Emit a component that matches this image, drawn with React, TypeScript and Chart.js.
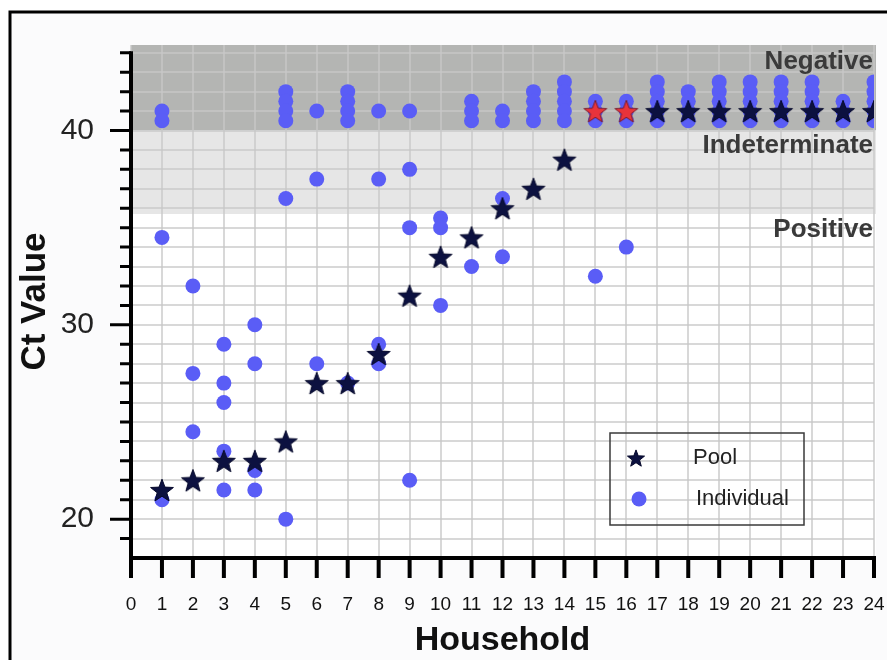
import React, { useEffect, useRef } from 'react';
import { Chart, registerables } from 'chart.js';

Chart.register(...registerables);

// ---------- data ----------
const households = [1, 2, 3, 4, 5, 6, 7, 8, 9, 10, 11, 12, 13, 14, 15, 16, 17, 18, 19, 20, 21, 22, 23, 24];
const poolCt = [21.5, 22, 23, 23, 24, 27, 27, 28.5, 31.5, 33.5, 34.5, 36, 37, 38.5, 41, 41, 41, 41, 41, 41, 41, 41, 41, 41];
const redPoolHouseholds = [15, 16];
const individualCt = [
  [41, 40.5, 34.5, 21],
  [32, 27.5, 24.5],
  [29, 27, 26, 23.5, 21.5],
  [30, 28, 22.5, 21.5],
  [42, 41.5, 41, 40.5, 36.5, 20],
  [41, 37.5, 28],
  [42, 41.5, 41, 40.5, 27],
  [41, 37.5, 29, 28],
  [41, 38, 35, 22],
  [35.5, 35, 31],
  [41.5, 41, 40.5, 33],
  [41, 40.5, 36.5, 33.5],
  [42, 41.5, 41, 40.5],
  [42.5, 42, 41.5, 41, 40.5],
  [41.5, 41, 40.5, 32.5],
  [41.5, 41, 40.5, 34],
  [42.5, 42, 41.5, 41, 40.5],
  [42, 41.5, 41, 40.5],
  [42.5, 42, 41.5, 41, 40.5],
  [42.5, 42, 41.5, 41, 40.5],
  [42.5, 42, 41.5, 41, 40.5],
  [42.5, 42, 41.5, 41, 40.5],
  [41.5, 41, 40.5],
  [42.5, 42, 41.5, 41, 40.5],
];
const yTickLabels = [20, 30, 40];
const bandNames = ['Negative', 'Indeterminate', 'Positive'];
const negativeCutoff = 40;
const indeterminateCutoff = 35.7;
const xRange = [0, 24];
const yRange = [18, 44.4];

// ---------- styles ----------
const NAVY = '#0c1140';
const RED = '#e8333b';
const BLUE = '#5a5df6';
const SANS = "'Liberation Sans', Arial, Helvetica, sans-serif";

function makeStar(size: number, fill: string, stroke: string) {
  const c = document.createElement('canvas');
  c.width = size;
  c.height = size;
  const g = c.getContext('2d')!;
  const R = size / 2 - 1;
  const r = R * 0.42;
  const cx = size / 2;
  const cy = size / 2 + R * 0.1;
  g.beginPath();
  for (let i = 0; i < 10; i++) {
    const a = -Math.PI / 2 + (i * Math.PI) / 5;
    const rad = i % 2 === 0 ? R : r;
    g.lineTo(cx + rad * Math.cos(a), cy + rad * Math.sin(a));
  }
  g.closePath();
  g.fillStyle = fill;
  g.fill();
  g.lineWidth = 1;
  g.strokeStyle = stroke;
  g.stroke();
  return c;
}

function zeroPadding(s: any) {
  s.paddingTop = 0;
  s.paddingBottom = 0;
  s.paddingLeft = 0;
  s.paddingRight = 0;
}

export default function App() {
  const ref = useRef<HTMLCanvasElement | null>(null);

  useEffect(() => {
    const canvas = ref.current!;
    const navyStar = makeStar(26, NAVY, '#05082a');
    const redStar = makeStar(26, RED, '#7a1a2a');
    const legendStar = makeStar(20, NAVY, '#05082a');

    const poolPoints = households.map((h, i) => ({ x: h, y: poolCt[i] }));
    const indPoints: { x: number; y: number }[] = [];
    households.forEach((h, i) => individualCt[i].forEach((v) => indPoints.push({ x: h, y: v })));

    const decor = {
      id: 'decor',
      beforeDraw(chart: any) {
        const { ctx, chartArea, scales } = chart;
        const y = scales.y;
        const W = chart.width;
        const H = chart.height;
        ctx.save();
        ctx.fillStyle = '#ffffff';
        ctx.fillRect(0, 0, W, H);
        ctx.fillStyle = '#fbfbfc';
        ctx.fillRect(10, 12, W - 10, H - 12);
        // bands
        const yNeg = y.getPixelForValue(negativeCutoff);
        const yInd = y.getPixelForValue(indeterminateCutoff);
        const bw = chartArea.right - chartArea.left + 2;
        ctx.fillStyle = '#b4b5b3';
        ctx.fillRect(chartArea.left, chartArea.top, bw, yNeg - chartArea.top);
        ctx.fillStyle = '#e6e6e6';
        ctx.fillRect(chartArea.left, yNeg, bw, yInd - yNeg);
        ctx.fillStyle = '#ffffff';
        ctx.fillRect(chartArea.left, yInd, bw, chartArea.bottom - yInd);
        // outer frame
        ctx.strokeStyle = '#000';
        ctx.lineWidth = 3;
        ctx.beginPath();
        ctx.moveTo(10, H);
        ctx.lineTo(10, 12);
        ctx.lineTo(W, 12);
        ctx.stroke();
        ctx.restore();
      },
      beforeDatasetsDraw(chart: any) {
        const { ctx, chartArea, scales } = chart;
        const x = scales.x;
        const y = scales.y;
        ctx.save();
        // band labels
        ctx.fillStyle = '#3a3a3a';
        ctx.font = `bold 26px ${SANS}`;
        ctx.textAlign = 'right';
        ctx.textBaseline = 'alphabetic';
        const yNeg = y.getPixelForValue(negativeCutoff);
        const yInd = y.getPixelForValue(indeterminateCutoff);
        const rx = chartArea.right - 1;
        ctx.fillText(bandNames[0], rx, yNeg - 62);
        ctx.fillText(bandNames[1], rx, yNeg + 22);
        ctx.fillText(bandNames[2], rx, yInd + 23);

        // axis lines
        ctx.strokeStyle = '#000';
        ctx.lineCap = 'butt';
        ctx.lineWidth = 4;
        ctx.beginPath();
        ctx.moveTo(chartArea.left, y.getPixelForValue(44) - 1.5);
        ctx.lineTo(chartArea.left, chartArea.bottom + 2);
        ctx.moveTo(chartArea.left - 2, chartArea.bottom);
        ctx.lineTo(x.getPixelForValue(xRange[1]) + 2, chartArea.bottom);
        ctx.stroke();
        // y ticks (minor every unit, major every 10)
        ctx.lineWidth = 3;
        ctx.beginPath();
        for (let v = yRange[0] + 1; v <= 44; v++) {
          const py = y.getPixelForValue(v);
          const len = v % 10 === 0 ? 21 : 11;
          ctx.moveTo(chartArea.left - len, py);
          ctx.lineTo(chartArea.left, py);
        }
        ctx.stroke();
        // x ticks
        ctx.lineWidth = 4;
        ctx.beginPath();
        for (let v = xRange[0]; v <= xRange[1]; v++) {
          const px = x.getPixelForValue(v);
          ctx.moveTo(px, chartArea.bottom);
          ctx.lineTo(px, chartArea.bottom + 20);
        }
        ctx.stroke();
        ctx.restore();
      },
      afterDraw(chart: any) {
        const { ctx, chartArea } = chart;
        const ds = chart.data.datasets;
        ctx.save();
        const bx = chartArea.left + 479;
        const by = chartArea.top + 388;
        ctx.strokeStyle = '#3a3a3a';
        ctx.lineWidth = 1.5;
        ctx.strokeRect(bx, by, 194, 92);
        ctx.drawImage(legendStar, bx + 26 - 10, by + 25 - 10, 20, 20);
        ctx.fillStyle = BLUE;
        ctx.beginPath();
        ctx.arc(bx + 29, by + 66, 7.5, 0, Math.PI * 2);
        ctx.fill();
        ctx.fillStyle = '#222';
        ctx.font = `22px ${SANS}`;
        ctx.textAlign = 'left';
        ctx.textBaseline = 'middle';
        ctx.fillText(ds[0].label, bx + 83, by + 25);
        ctx.fillText(ds[1].label, bx + 86, by + 66);
        ctx.restore();
      },
    };

    const gridColor = 'rgba(200,200,200,0.7)';

    const chart = new Chart(canvas, {
      type: 'scatter',
      data: {
        datasets: [
          {
            label: 'Pool',
            data: poolPoints,
            pointStyle: (c: any) => (c.raw && redPoolHouseholds.includes(c.raw.x) ? redStar : navyStar),
            pointRadius: 12,
            pointHoverRadius: 12,
          },
          {
            label: 'Individual',
            data: indPoints,
            pointStyle: 'circle',
            pointRadius: 7.5,
            pointHoverRadius: 7.5,
            backgroundColor: BLUE,
            borderColor: BLUE,
            borderWidth: 0,
          },
        ],
      },
      options: {
        responsive: false,
        animation: false,
        devicePixelRatio: 1,
        events: [],
        layout: { padding: { left: 10, top: 45, right: 13, bottom: 0 } },
        plugins: { legend: { display: false }, tooltip: { enabled: false } },
        scales: {
          x: {
            type: 'linear',
            position: 'bottom',
            min: xRange[0],
            max: xRange[1],
            afterFit: (s: any) => {
              s.height = 102;
              zeroPadding(s);
            },
            border: { display: false },
            grid: { color: gridColor, lineWidth: 2, drawTicks: false },
            ticks: {
              stepSize: 1,
              autoSkip: false,
              maxRotation: 0,
              padding: 35,
              color: '#111',
              font: { family: SANS, size: 19 },
              callback: (v: any) => String(v),
            },
            title: {
              display: true,
              text: 'Household',
              color: '#111',
              font: { family: SANS, size: 34, weight: 'bold', lineHeight: 1 },
              padding: { top: 0, bottom: 2 },
            },
          },
          y: {
            type: 'linear',
            min: yRange[0],
            max: yRange[1],
            afterFit: (s: any) => {
              s.width = 121;
              zeroPadding(s);
            },
            border: { display: false },
            grid: { color: gridColor, lineWidth: 2, drawTicks: false },
            ticks: {
              stepSize: 1,
              autoSkip: false,
              includeBounds: false,
              padding: 37,
              color: '#222',
              font: { family: SANS, size: 30 },
              callback: (v: any) => (yTickLabels.includes(v) ? String(v) : ''),
            },
            title: {
              display: true,
              text: 'Ct Value',
              color: '#111',
              font: { family: SANS, size: 35, weight: 'bold', lineHeight: 1 },
              padding: { top: 8, bottom: 0 },
            },
          },
        },
      } as any,
      plugins: [decor],
    });

    return () => chart.destroy();
  }, []);

  return (
    <div style={{ position: 'fixed', left: 0, top: 0, width: 887, height: 660 }}>
      <canvas ref={ref} width={887} height={660} style={{ display: 'block', width: 887, height: 660 }} />
    </div>
  );
}
